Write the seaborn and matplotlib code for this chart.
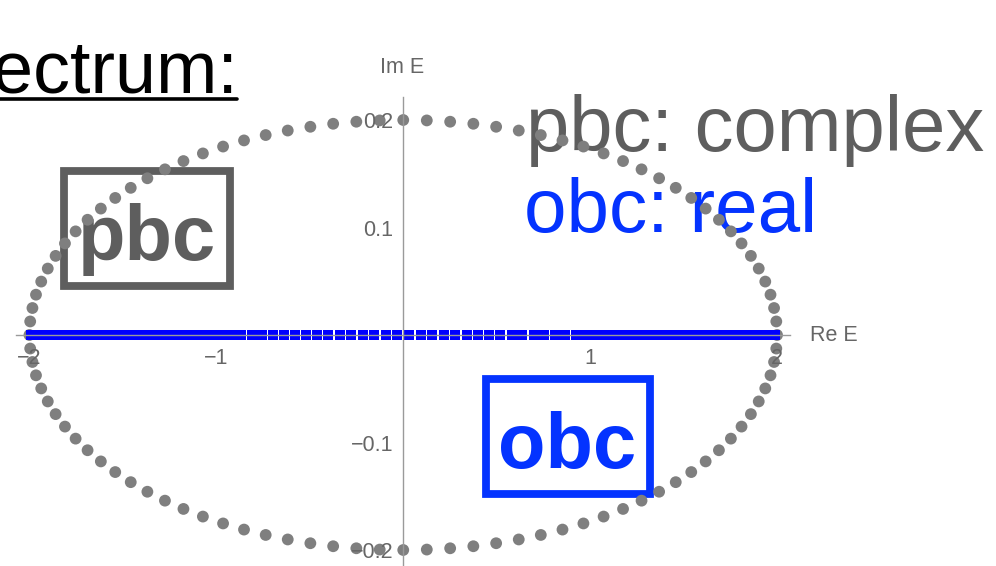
import matplotlib
matplotlib.use("Agg")
import matplotlib.pyplot as plt
from matplotlib.patches import Rectangle
from matplotlib.lines import Line2D
from matplotlib.ticker import FixedLocator, FixedFormatter, MultipleLocator
import seaborn as sns

# Periodic-boundary spectrum (complex eigenvalues), real and imaginary parts
pbc_re = [
    2.000, 1.996, 1.984, 1.965, 1.937, 1.902, 1.860, 1.810, 1.753, 1.689,
    1.618, 1.541, 1.458, 1.369, 1.275, 1.176, 1.072, 0.964, 0.852, 0.736,
    0.618, 0.497, 0.375, 0.251, 0.126, 0.000,
    -0.126, -0.251, -0.375, -0.497, -0.618, -0.736, -0.852, -0.964, -1.072,
    -1.176, -1.275, -1.369, -1.458, -1.541, -1.618, -1.689, -1.753, -1.810,
    -1.860, -1.902, -1.937, -1.965, -1.984, -1.996, -2.000,
    -1.996, -1.984, -1.965, -1.937, -1.902, -1.860, -1.810, -1.753, -1.689,
    -1.618, -1.541, -1.458, -1.369, -1.275, -1.176, -1.072, -0.964, -0.852,
    -0.736, -0.618, -0.497, -0.375, -0.251, -0.126, 0.000,
    0.126, 0.251, 0.375, 0.497, 0.618, 0.736, 0.852, 0.964, 1.072, 1.176,
    1.275, 1.369, 1.458, 1.541, 1.618, 1.689, 1.753, 1.810, 1.860, 1.902,
    1.937, 1.965, 1.984, 1.996,
]
pbc_im = [
    0.0000, 0.0126, 0.0251, 0.0375, 0.0497, 0.0618, 0.0736, 0.0852, 0.0964,
    0.1072, 0.1176, 0.1275, 0.1369, 0.1458, 0.1541, 0.1618, 0.1689, 0.1753,
    0.1810, 0.1860, 0.1902, 0.1937, 0.1965, 0.1984, 0.1996, 0.2000,
    0.1996, 0.1984, 0.1965, 0.1937, 0.1902, 0.1860, 0.1810, 0.1753, 0.1689,
    0.1618, 0.1541, 0.1458, 0.1369, 0.1275, 0.1176, 0.1072, 0.0964, 0.0852,
    0.0736, 0.0618, 0.0497, 0.0375, 0.0251, 0.0126, 0.0000,
    -0.0126, -0.0251, -0.0375, -0.0497, -0.0618, -0.0736, -0.0852, -0.0964,
    -0.1072, -0.1176, -0.1275, -0.1369, -0.1458, -0.1541, -0.1618, -0.1689,
    -0.1753, -0.1810, -0.1860, -0.1902, -0.1937, -0.1965, -0.1984, -0.1996,
    -0.2000,
    -0.1996, -0.1984, -0.1965, -0.1937, -0.1902, -0.1860, -0.1810, -0.1753,
    -0.1689, -0.1618, -0.1541, -0.1458, -0.1369, -0.1275, -0.1176, -0.1072,
    -0.0964, -0.0852, -0.0736, -0.0618, -0.0497, -0.0375, -0.0251, -0.0126,
]

# Open-boundary spectrum: purely real eigenvalues
obc_re = [
    1.989, 1.986, 1.981, 1.975, 1.966, 1.955, 1.943, 1.929, 1.913, 1.895,
    1.875, 1.853, 1.830, 1.804, 1.777, 1.749, 1.718, 1.686, 1.653, 1.617,
    1.580, 1.542, 1.502, 1.461, 1.418, 1.374, 1.329, 1.282, 1.234, 1.185,
    1.134, 1.083, 1.031, 0.977, 0.923, 0.867, 0.811, 0.754, 0.697, 0.638,
    0.580, 0.520, 0.460, 0.400, 0.339, 0.278, 0.216, 0.155, 0.093, 0.031,
    -0.031, -0.093, -0.155, -0.216, -0.278, -0.339, -0.400, -0.460, -0.520,
    -0.580, -0.638, -0.697, -0.754, -0.811, -0.867, -0.923, -0.977, -1.031,
    -1.083, -1.134, -1.185, -1.234, -1.282, -1.329, -1.374, -1.418, -1.461,
    -1.502, -1.542, -1.580, -1.617, -1.653, -1.686, -1.718, -1.749, -1.777,
    -1.804, -1.830, -1.853, -1.875, -1.895, -1.913, -1.929, -1.943, -1.955,
    -1.966, -1.975, -1.981, -1.986, -1.989,
]
obc_im = [0.0] * len(obc_re)

x_major = [-2, -1, 1, 2]
x_major_labels = ["\u22122", "\u22121", "1", "2"]
y_major = [-0.2, -0.1, 0.1, 0.2]
y_major_labels = ["\u22120.2", "\u22120.1", "0.1", "0.2"]

GRAY_DOT = "#7f7f7f"
BLUE_SQ = "#0000ff"
TEXT_GRAY = "#5e5e5e"
TEXT_BLUE = "#0433ff"
AXIS_GRAY = "#9a9a9a"
LABEL_GRAY = "#666666"

sns.set_style("white")
plt.rcParams["font.family"] = ["Liberation Sans", "DejaVu Sans"]

W, H = 996, 566
fig = plt.figure(figsize=(W / 100, H / 100), dpi=100)


def fx(px):
    return px / W


def fy(py):
    return 1 - py / H


# axes box in pixels: x from -2.07..2.07, y from -0.221..0.221
x0_px, x_scale = 403.25, 186.9
y0_px, y_scale = 335.0, 1075.0
xlim = (-2.07, 2.07)
ylim = (-0.221, 0.221)
left_px = x0_px + xlim[0] * x_scale
right_px = x0_px + xlim[1] * x_scale
top_px = y0_px - ylim[1] * y_scale
bot_px = y0_px - ylim[0] * y_scale
ax = fig.add_axes([fx(left_px), fy(bot_px), (right_px - left_px) / W, (bot_px - top_px) / H])
ax.patch.set_facecolor("white")

sns.scatterplot(x=pbc_re, y=pbc_im, ax=ax, color=GRAY_DOT, marker="o", s=72,
                linewidth=0, edgecolor="none", zorder=1.5)
sns.scatterplot(x=obc_re, y=obc_im, ax=ax, color=BLUE_SQ, marker="s", s=52,
                linewidth=0, edgecolor="none", zorder=2)

ax.set_xlim(*xlim)
ax.set_ylim(*ylim)
ax.set_xlabel("")
ax.set_ylabel("")
ax.set_axisbelow(False)

for side in ("top", "right"):
    ax.spines[side].set_visible(False)
for side in ("left", "bottom"):
    ax.spines[side].set_position(("data", 0))
    ax.spines[side].set_color(AXIS_GRAY)
    ax.spines[side].set_linewidth(1.0)
    ax.spines[side].set_zorder(3)

ax.xaxis.set_major_locator(FixedLocator(x_major))
ax.xaxis.set_major_formatter(FixedFormatter(x_major_labels))
ax.xaxis.set_minor_locator(MultipleLocator(0.2))
ax.yaxis.set_major_locator(FixedLocator(y_major))
ax.yaxis.set_major_formatter(FixedFormatter(y_major_labels))
ax.yaxis.set_minor_locator(MultipleLocator(0.02))

ax.tick_params(which="both", direction="in", color=AXIS_GRAY, width=0.9,
               labelcolor=LABEL_GRAY, labelsize=15.5)
ax.tick_params(which="major", length=5.5)
ax.tick_params(which="minor", length=3.2)
ax.tick_params(axis="x", which="major", pad=9)
ax.tick_params(axis="y", which="major", pad=7)

# axis names at the ends of the axes
ax.text(fx(810), fy(341), "Re E", transform=fig.transFigure, fontsize=15.5,
        color=LABEL_GRAY, ha="left", va="baseline", clip_on=False, zorder=3)
ax.text(fx(402), fy(73), "Im E", transform=fig.transFigure, fontsize=15.5,
        color=LABEL_GRAY, ha="center", va="baseline", clip_on=False, zorder=3)

# slide annotations underneath the data
txt_kw = dict(transform=fig.transFigure, clip_on=False, zorder=0.5)
ax.text(fx(239), fy(93), "Spectrum:", fontsize=53, color="black",
        ha="right", va="baseline", **txt_kw)
ax.add_line(Line2D([0, fx(237)], [fy(98.5), fy(98.5)], transform=fig.transFigure,
                   color="black", linewidth=2.6, clip_on=False, zorder=0.5))

ax.text(fx(526), fy(151), "pbc: complex", fontsize=56, color=TEXT_GRAY,
        ha="left", va="baseline", **txt_kw)
ax.text(fx(524), fy(232), "obc: real", fontsize=55, color=TEXT_BLUE,
        ha="left", va="baseline", **txt_kw)

# labelled boxes
ax.add_patch(Rectangle((fx(64), fy(286)), fx(230) - fx(64), fy(171) - fy(286),
                       transform=fig.transFigure, fill=False, edgecolor=TEXT_GRAY,
                       linewidth=5.6, clip_on=False, zorder=0.5))
ax.text(fx(147), fy(260), "pbc", fontsize=56, fontweight="bold", color=TEXT_GRAY,
        ha="center", va="baseline", **txt_kw)

ax.add_patch(Rectangle((fx(486), fy(494)), fx(650) - fx(486), fy(379) - fy(494),
                       transform=fig.transFigure, fill=False, edgecolor=TEXT_BLUE,
                       linewidth=5.6, clip_on=False, zorder=0.5))
ax.text(fx(567), fy(468), "obc", fontsize=56, fontweight="bold", color=TEXT_BLUE,
        ha="center", va="baseline", **txt_kw)

fig.savefig("out.png", dpi=100)
